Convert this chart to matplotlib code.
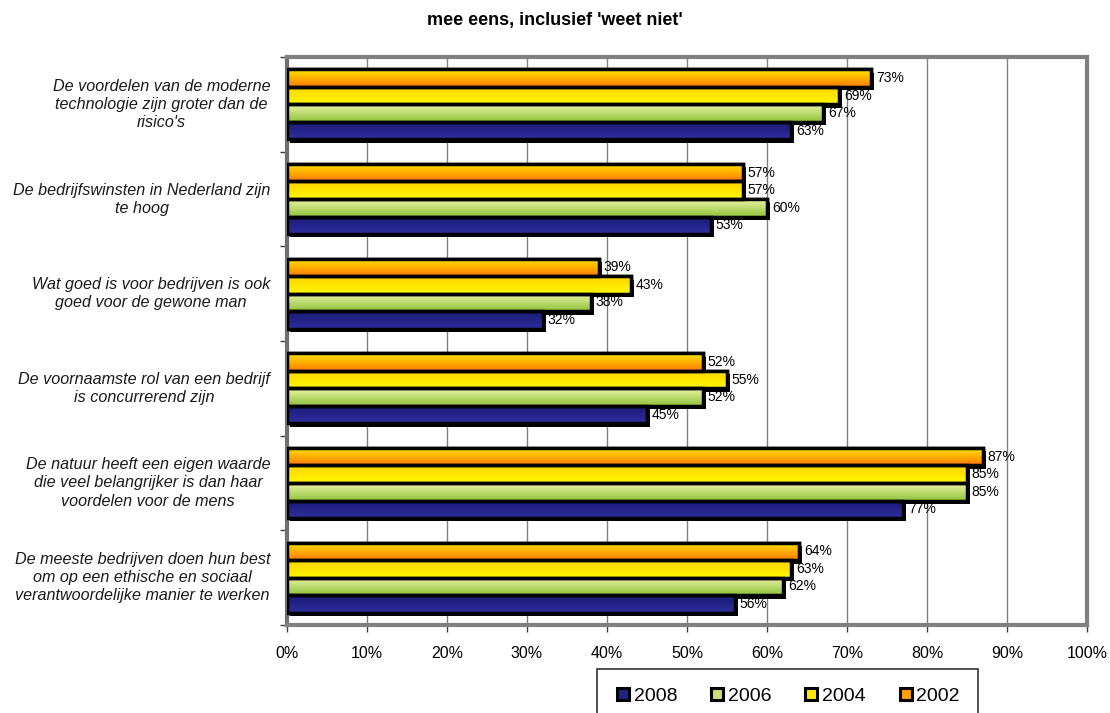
import numpy as np
import matplotlib
matplotlib.use("Agg")
import matplotlib.pyplot as plt
from matplotlib.lines import Line2D
from matplotlib import patheffects as pe
from matplotlib.ticker import FixedLocator, PercentFormatter

plt.rcParams['font.family'] = ['Liberation Sans', 'DejaVu Sans']

title = "mee eens, inclusief 'weet niet'"
categories = [
    "De voordelen van de moderne\ntechnologie zijn groter dan de\nrisico's",
    "De bedrijfswinsten in Nederland zijn\nte hoog",
    "Wat goed is voor bedrijven is ook\ngoed voor de gewone man",
    "De voornaamste rol van een bedrijf\nis concurrerend zijn",
    "De natuur heeft een eigen waarde\ndie veel belangrijker is dan haar\nvoordelen voor de mens",
    "De meeste bedrijven doen hun best\nom op een ethische en sociaal\nverantwoordelijke manier te werken",
]
series_names = ["2008", "2006", "2004", "2002"]
v2008 = [63, 53, 32, 45, 77, 56]
v2006 = [67, 60, 38, 52, 85, 62]
v2004 = [69, 57, 43, 55, 85, 63]
v2002 = [73, 57, 39, 52, 87, 64]
values = [v2008, v2006, v2004, v2002]
xticks = [0, 10, 20, 30, 40, 50, 60, 70, 80, 90, 100]

# gradient (top colour, bottom colour) and legend colour for each series
grad = {
    "2008": ("#1a1a74", "#2e2e9e"),
    "2006": ("#eef5a8", "#8fc23a"),
    "2004": ("#ffd400", "#fff700"),
    "2002": ("#ffe800", "#ff7a00"),
}
legend_col = {"2008": "#22228a", "2006": "#c8e070", "2004": "#ffe800", "2002": "#ffa000"}

fig = plt.figure(figsize=(11.10, 7.13), dpi=100)
ax = fig.add_axes([287/1110, 1-625/713, 800/1110, 568/713])

n = len(categories)
y = np.arange(n)
h = 0.185
offsets = {"2002": -1.5*h, "2004": -0.5*h, "2006": 0.5*h, "2008": 1.5*h}

def vgrad(c1, c2, npts=64):
    a = np.array(matplotlib.colors.to_rgb(c1))
    b = np.array(matplotlib.colors.to_rgb(c2))
    t = np.linspace(0, 1, npts)[:, None]
    col = a*(1-t) + b*t
    return col[:, None, :]

for name, vals in zip(series_names, values):
    ys = y + offsets[name]
    # black shadow / body
    ax.barh(ys, vals, height=h, color='black', edgecolor='black', lw=2.5, zorder=2,
            path_effects=[pe.SimplePatchShadow(offset=(2.5, -2.5), shadow_rgbFace='black', alpha=1.0),
                          pe.Normal()])
    edges = ax.barh(ys, vals, height=h, facecolor='none', edgecolor='black', lw=2.5, zorder=4)
    g = vgrad(*grad[name])
    for p, v, yy in zip(edges.patches, vals, ys):
        x0, y0 = p.get_x(), p.get_y()
        w, hh = p.get_width(), p.get_height()
        im = ax.imshow(g, extent=(x0, x0 + w, y0 + hh, y0), aspect='auto',
                       origin='upper', zorder=3, interpolation='bilinear')
        im.set_clip_path(p)
        ax.text(v + 0.6, yy, f"{v}%", va='center', ha='left', fontsize=10, zorder=5)

ax.set_xlim(0, 100)
ax.set_ylim(n - 0.5, -0.5)
ax.set_aspect('auto')

ax.xaxis.set_major_locator(FixedLocator(xticks))
ax.xaxis.set_major_formatter(PercentFormatter(decimals=0))
ax.tick_params(axis='x', labelsize=11.5, length=5, width=1, color='#404040', pad=10, direction='out')
ax.grid(axis='x', color='#808080', lw=1, zorder=0)
ax.set_axisbelow(True)

ax.set_yticks(np.arange(n + 1) - 0.5)
ax.set_yticklabels([])
ax.tick_params(axis='y', length=5, width=1, color='#404040', direction='out')

for s in ax.spines.values():
    s.set_color('#808080')
    s.set_linewidth(3)
ax.spines['left'].set_color('#707070')

for i, lab in enumerate(categories):
    ax.text(-2.1, i, lab, ha='right', va='center', multialignment='center',
            fontsize=11.6, style='italic', color='#1a1a1a', linespacing=1.25,
            transform=ax.transData, clip_on=False)

fig.text(555/1110, 1-20/713, title, ha='center', va='center', fontsize=13, fontweight='bold')

handles = [Line2D([], [], marker='s', ls='none', markersize=9, markerfacecolor=legend_col[s],
                  markeredgecolor='black', markeredgewidth=2.2) for s in series_names]
leg = fig.legend(handles, series_names, loc='upper left', bbox_to_anchor=(597/1110, 1-669/713),
                 ncol=4, frameon=True, fontsize=14, handlelength=0.8, handletextpad=0.15,
                 columnspacing=1.65, borderpad=0.95, borderaxespad=0, fancybox=False,
                 edgecolor='black')
leg.get_frame().set_linewidth(1.2)

fig.savefig("out.png", dpi=100)
